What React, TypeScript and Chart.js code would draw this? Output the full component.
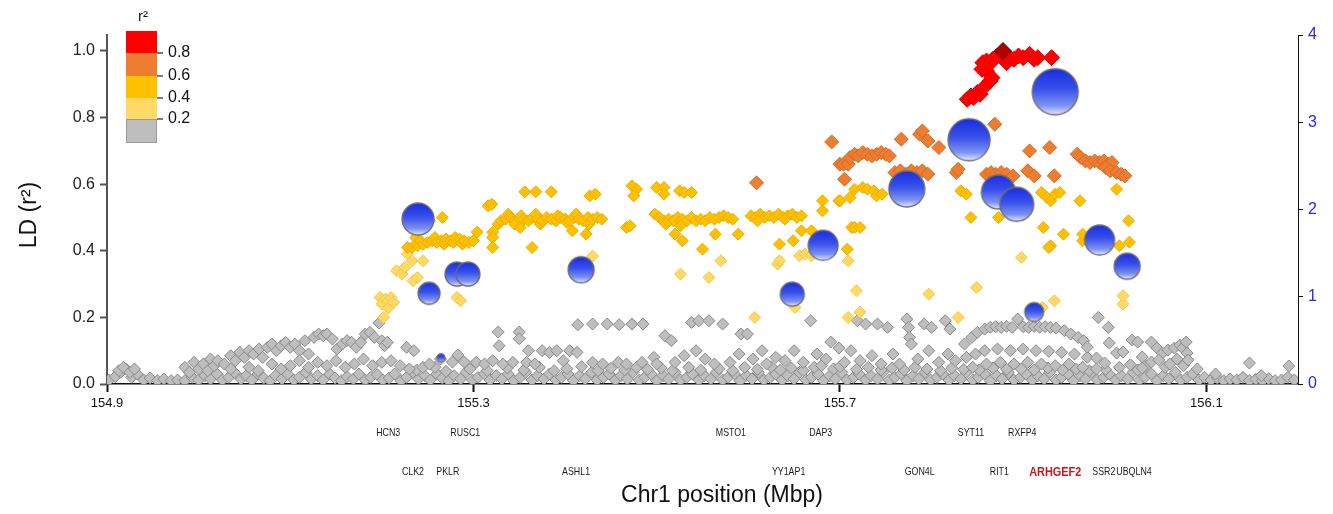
import React, { useEffect, useRef } from "react";
import { Chart, registerables } from "chart.js";

Chart.register(...registerables);

type Pt = [number, number];

// ---------------- DATA ----------------
const xTickValues = [154.9, 155.3, 155.7, 156.1];
const legendBreaks = ["0.8", "0.6", "0.4", "0.2"];

const geneNames = ["HCN3", "RUSC1", "MSTO1", "DAP3", "SYT11", "RXFP4", "CLK2", "PKLR", "ASHL1", "YY1AP1", "GON4L", "RIT1", "ARHGEF2", "SSR2", "UBQLN4"];
const genePositions = [155.207, 155.291, 155.581, 155.679, 155.843, 155.899, 155.234, 155.272, 155.412, 155.644, 155.787, 155.874, 155.935, 155.988, 156.021];
const geneRows = [0, 0, 0, 0, 0, 0, 1, 1, 1, 1, 1, 1, 1, 1, 1];
const highlightGene = "ARHGEF2";

// association signals (right axis) with marker size
const assocX = [155.2395, 155.2515, 155.282, 155.294, 155.2646, 155.4175, 155.648, 155.6817, 155.773, 155.841, 155.873, 155.893, 155.935, 155.912, 155.9835, 156.0135];
const assocY = [1.89, 1.04, 1.26, 1.26, 0.3, 1.31, 1.03, 1.59, 2.235, 2.8, 2.2, 2.06, 3.35, 0.825, 1.65, 1.35];
const assocSize = [16, 11, 12, 12, 4, 13, 12, 15, 18, 21, 17, 17, 23, 9.5, 15, 13];

const leadSnp: Pt[] = [[155.878, 1.0]];

const redSnps: Pt[] = [
  [155.839, 0.855], [155.843, 0.865], [155.846, 0.86], [155.85, 0.875], [155.853, 0.87], [155.857, 0.89],
  [155.855, 0.945], [155.86, 0.94], [155.856, 0.965], [155.86, 0.97], [155.863, 0.96], [155.864, 0.91],
  [155.866, 0.92], [155.867, 0.975], [155.872, 0.985], [155.882, 0.965], [155.885, 0.98], [155.89, 0.975],
  [155.895, 0.985], [155.9, 0.98], [155.907, 0.99], [155.912, 0.975], [155.916, 0.98], [155.931, 0.98],
];

const orangeSnps: Pt[] = [
  [155.609, 0.604], [155.691, 0.727], [155.7, 0.66], [155.704, 0.66], [155.705, 0.615], [155.709, 0.66],
  [155.711, 0.68], [155.716, 0.69], [155.72, 0.685], [155.725, 0.695], [155.73, 0.69], [155.735, 0.685],
  [155.74, 0.69], [155.745, 0.695], [155.75, 0.69], [155.754, 0.685], [155.767, 0.735], [155.787, 0.75],
  [155.79, 0.76], [155.796, 0.73], [155.808, 0.71], [155.76, 0.635], [155.766, 0.64], [155.772, 0.63],
  [155.778, 0.64], [155.784, 0.635], [155.79, 0.64], [155.796, 0.63], [155.827, 0.635], [155.829, 0.645],
  [155.86, 0.63], [155.865, 0.635], [155.87, 0.63], [155.876, 0.635], [155.882, 0.63], [155.889, 0.625],
  [155.869, 0.78], [155.907, 0.7], [155.929, 0.71], [155.905, 0.64], [155.912, 0.625], [155.934, 0.625],
  [155.959, 0.69], [155.963, 0.68], [155.968, 0.67], [155.973, 0.665], [155.978, 0.67], [155.983, 0.665],
  [155.988, 0.67], [155.993, 0.66], [155.997, 0.665], [155.99, 0.65], [155.995, 0.64], [156.002, 0.635],
  [156.007, 0.63], [156.011, 0.625],
];

const yellowSnps: Pt[] = [
  [155.228, 0.41], [155.233, 0.41], [155.237, 0.44], [155.239, 0.415], [155.241, 0.5], [155.242, 0.43],
  [155.245, 0.42], [155.25, 0.425], [155.252, 0.49], [155.255, 0.43], [155.258, 0.44], [155.26, 0.425],
  [155.265, 0.43], [155.266, 0.5], [155.268, 0.42], [155.27, 0.435], [155.275, 0.43], [155.278, 0.425],
  [155.28, 0.44], [155.285, 0.435], [155.288, 0.42], [155.29, 0.43], [155.295, 0.425], [155.3, 0.43],
  [155.304, 0.456], [155.316, 0.535], [155.32, 0.54], [155.321, 0.456], [155.321, 0.44], [155.321, 0.41],
  [155.327, 0.48],
  [155.33, 0.49], [155.335, 0.495], [155.338, 0.51], [155.34, 0.5], [155.345, 0.49], [155.345, 0.48],
  [155.35, 0.5], [155.352, 0.505], [155.355, 0.495], [155.36, 0.49], [155.365, 0.5], [155.368, 0.51],
  [155.37, 0.495], [155.373, 0.48], [155.375, 0.49], [155.38, 0.5], [155.385, 0.495], [155.39, 0.49],
  [155.392, 0.505], [155.395, 0.5], [155.4, 0.495], [155.402, 0.485], [155.405, 0.49], [155.41, 0.5],
  [155.412, 0.51], [155.415, 0.495], [155.42, 0.49], [155.425, 0.5], [155.426, 0.48], [155.43, 0.495],
  [155.435, 0.5], [155.44, 0.495],
  [155.356, 0.577], [155.368, 0.577], [155.385, 0.577], [155.427, 0.565], [155.433, 0.57], [155.473, 0.595],
  [155.478, 0.585], [155.475, 0.565], [155.5, 0.59], [155.508, 0.59], [155.508, 0.57], [155.525, 0.58],
  [155.53, 0.575], [155.538, 0.575],
  [155.351, 0.47], [155.364, 0.41], [155.408, 0.46], [155.423, 0.45], [155.467, 0.47], [155.471, 0.475],
  [155.52, 0.45], [155.528, 0.43], [155.55, 0.405], [155.564, 0.45], [155.589, 0.45], [155.634, 0.42],
  [155.649, 0.43], [155.658, 0.46], [155.669, 0.46], [155.681, 0.55], [155.681, 0.52], [155.699, 0.55],
  [155.708, 0.405], [155.713, 0.47],
  [155.498, 0.51], [155.503, 0.5], [155.508, 0.49], [155.513, 0.495], [155.518, 0.49], [155.523, 0.5],
  [155.528, 0.495], [155.533, 0.49], [155.538, 0.5], [155.543, 0.49], [155.548, 0.495], [155.553, 0.49],
  [155.558, 0.5], [155.563, 0.495], [155.568, 0.5], [155.573, 0.505], [155.578, 0.5], [155.583, 0.495],
  [155.51, 0.48], [155.526, 0.475],
  [155.603, 0.505], [155.608, 0.5], [155.613, 0.51], [155.618, 0.5], [155.623, 0.505], [155.628, 0.5],
  [155.633, 0.51], [155.638, 0.5], [155.643, 0.505], [155.648, 0.51], [155.653, 0.5], [155.658, 0.505],
  [155.61, 0.49], [155.64, 0.495],
  [155.7, 0.55], [155.711, 0.56], [155.716, 0.585], [155.725, 0.59], [155.73, 0.585], [155.737, 0.58],
  [155.74, 0.565], [155.746, 0.57], [155.716, 0.47], [155.722, 0.47], [155.832, 0.58], [155.838, 0.57],
  [155.843, 0.5], [155.873, 0.5], [155.92, 0.575], [155.926, 0.56], [155.93, 0.55], [155.935, 0.57],
  [155.94, 0.575], [155.922, 0.47], [155.944, 0.45], [155.93, 0.415], [155.928, 0.41], [155.965, 0.43],
  [155.965, 0.45], [155.962, 0.55], [156.002, 0.585], [156.015, 0.49], [156.016, 0.426], [156.005, 0.415],
];

const lightYellowSnps: Pt[] = [
  [155.198, 0.26], [155.2, 0.24], [155.202, 0.2], [155.204, 0.255], [155.207, 0.25], [155.207, 0.228],
  [155.21, 0.26], [155.213, 0.245], [155.216, 0.34], [155.222, 0.33], [155.225, 0.35], [155.228, 0.39],
  [155.233, 0.37], [155.234, 0.31], [155.239, 0.32], [155.245, 0.37], [155.282, 0.26], [155.286, 0.25],
  [155.43, 0.384], [155.526, 0.33], [155.557, 0.32], [155.57, 0.37], [155.607, 0.2], [155.632, 0.36],
  [155.634, 0.37], [155.651, 0.23], [155.656, 0.385], [155.662, 0.39], [155.669, 0.385], [155.709, 0.37],
  [155.709, 0.2], [155.718, 0.28], [155.722, 0.216], [155.797, 0.27], [155.829, 0.2], [155.849, 0.29],
  [155.898, 0.38], [155.921, 0.23], [155.934, 0.25], [156.009, 0.24], [156.009, 0.265],
];

const grayBaseline: Pt[] = [
  [154.902, 0.012], [154.909, 0.022], [154.915, 0.035], [154.921, 0.045], [154.927, 0.02], [154.933, 0.03],
  [154.94, 0.012], [154.947, 0.018], [154.955, 0.01], [154.962, 0.015], [154.97, 0.01], [154.977, 0.012],
  [154.985, 0.01], [154.993, 0.02], [155.0, 0.012], [155.007, 0.025], [155.013, 0.015], [155.02, 0.03],
  [155.026, 0.012], [155.033, 0.02], [155.039, 0.035], [155.046, 0.015], [155.052, 0.025], [155.058, 0.012],
  [155.065, 0.03], [155.071, 0.018], [155.078, 0.01], [155.084, 0.025], [155.091, 0.015], [155.097, 0.03],
  [155.104, 0.012], [155.11, 0.02], [155.117, 0.035], [155.123, 0.015], [155.13, 0.025], [155.136, 0.012],
  [155.143, 0.03], [155.149, 0.018], [155.156, 0.01], [155.162, 0.022], [155.169, 0.015], [155.175, 0.03],
  [155.182, 0.012], [155.188, 0.02], [155.195, 0.028], [155.201, 0.012], [155.208, 0.018], [155.214, 0.03],
  [155.221, 0.01], [155.227, 0.02], [155.234, 0.035], [155.24, 0.015], [155.247, 0.025], [155.253, 0.012],
  [155.26, 0.03], [155.266, 0.018], [155.273, 0.01], [155.279, 0.025], [155.286, 0.015], [155.292, 0.035],
  [155.299, 0.012], [155.305, 0.02], [155.312, 0.03], [155.318, 0.012], [155.325, 0.025], [155.331, 0.015],
  [155.338, 0.03], [155.344, 0.01], [155.351, 0.02], [155.357, 0.035], [155.364, 0.012], [155.37, 0.025],
  [155.377, 0.015], [155.383, 0.03], [155.39, 0.012], [155.396, 0.02], [155.403, 0.03], [155.409, 0.01],
  [155.416, 0.025], [155.422, 0.015], [155.429, 0.035], [155.435, 0.012], [155.442, 0.02], [155.448, 0.03],
  [155.455, 0.012], [155.461, 0.025], [155.468, 0.015], [155.474, 0.035], [155.481, 0.012], [155.487, 0.02],
  [155.494, 0.03], [155.5, 0.01], [155.507, 0.025], [155.513, 0.015], [155.52, 0.035], [155.526, 0.012],
  [155.533, 0.02], [155.539, 0.03], [155.546, 0.012], [155.552, 0.025], [155.559, 0.015], [155.565, 0.035],
  [155.572, 0.012], [155.578, 0.02], [155.585, 0.03], [155.591, 0.01], [155.598, 0.025], [155.604, 0.015],
  [155.611, 0.035], [155.617, 0.012], [155.624, 0.02], [155.63, 0.03], [155.637, 0.012], [155.643, 0.025],
  [155.65, 0.015], [155.656, 0.035], [155.663, 0.012], [155.669, 0.02], [155.676, 0.03], [155.682, 0.01],
  [155.689, 0.025], [155.695, 0.015], [155.702, 0.035], [155.708, 0.012], [155.715, 0.02], [155.721, 0.03],
  [155.728, 0.012], [155.734, 0.025], [155.741, 0.015], [155.747, 0.035], [155.754, 0.012], [155.76, 0.02],
  [155.767, 0.03], [155.773, 0.01], [155.78, 0.025], [155.786, 0.015], [155.793, 0.035], [155.799, 0.012],
  [155.806, 0.02], [155.812, 0.03], [155.819, 0.012], [155.825, 0.025], [155.832, 0.015], [155.838, 0.035],
  [155.845, 0.012], [155.851, 0.02], [155.858, 0.03], [155.864, 0.01], [155.871, 0.025], [155.877, 0.015],
  [155.884, 0.035], [155.89, 0.012], [155.897, 0.02], [155.903, 0.03], [155.91, 0.012], [155.916, 0.025],
  [155.923, 0.015], [155.929, 0.035], [155.936, 0.012], [155.942, 0.02], [155.949, 0.03], [155.955, 0.01],
  [155.962, 0.025], [155.968, 0.015], [155.975, 0.035], [155.981, 0.012], [155.988, 0.02], [155.994, 0.03],
  [156.001, 0.012], [156.007, 0.025], [156.014, 0.015], [156.02, 0.035], [156.027, 0.012], [156.033, 0.02],
  [156.04, 0.03], [156.046, 0.01], [156.053, 0.025], [156.059, 0.015], [156.066, 0.035], [156.072, 0.012],
  [156.079, 0.02], [156.085, 0.03], [156.092, 0.012], [156.098, 0.02], [156.105, 0.012], [156.112, 0.018],
  [156.119, 0.01], [156.126, 0.015], [156.133, 0.012], [156.14, 0.02], [156.147, 0.01], [156.154, 0.014],
  [156.161, 0.01], [156.168, 0.016], [156.175, 0.01], [156.182, 0.012], [156.189, 0.02], [156.196, 0.012],
];

const grayMid: Pt[] = [
  [155.238, 0.042], [155.258, 0.05], [155.27, 0.038], [155.296, 0.045], [155.315, 0.04], [155.337, 0.048],
  [155.355, 0.042], [155.372, 0.05], [155.388, 0.04], [155.402, 0.046], [155.418, 0.052], [155.436, 0.04],
  [155.45, 0.047], [155.465, 0.042], [155.478, 0.05], [155.49, 0.044], [155.505, 0.048], [155.517, 0.04],
  [155.535, 0.05], [155.548, 0.042], [155.568, 0.046], [155.583, 0.04], [155.596, 0.05], [155.61, 0.044],
  [155.625, 0.052], [155.635, 0.042], [155.647, 0.048], [155.66, 0.04], [155.672, 0.05], [155.68, 0.055],
  [155.693, 0.045], [155.7, 0.052], [155.718, 0.044], [155.731, 0.05], [155.745, 0.042], [155.757, 0.048],
  [155.77, 0.042], [155.782, 0.05], [155.795, 0.045], [155.81, 0.04], [155.822, 0.048], [155.835, 0.044],
  [155.852, 0.042], [155.867, 0.048], [155.882, 0.044], [155.898, 0.045], [155.912, 0.042], [155.927, 0.048],
  [155.943, 0.042], [155.958, 0.045], [155.972, 0.04], [155.99, 0.044], [156.005, 0.05], [156.017, 0.058],
  [156.035, 0.055], [156.055, 0.05], [156.075, 0.055], [156.09, 0.045],
];

const grayUpper: Pt[] = [
  [154.913, 0.04], [154.918, 0.05], [154.925, 0.035], [154.93, 0.045], [154.985, 0.05], [154.99, 0.035],
  [154.995, 0.065], [155.0, 0.045], [155.005, 0.06], [155.01, 0.04], [155.013, 0.075], [155.017, 0.055],
  [155.021, 0.07],
  [155.028, 0.06], [155.035, 0.085], [155.04, 0.07], [155.045, 0.095], [155.05, 0.08], [155.055, 0.1],
  [155.06, 0.09], [155.066, 0.105], [155.07, 0.08], [155.075, 0.11], [155.08, 0.12], [155.085, 0.1],
  [155.09, 0.115], [155.095, 0.125], [155.1, 0.11], [155.105, 0.12], [155.11, 0.1], [155.116, 0.13],
  [155.12, 0.09], [155.126, 0.14], [155.131, 0.15], [155.136, 0.145], [155.14, 0.15], [155.146, 0.135],
  [155.151, 0.105], [155.157, 0.12], [155.162, 0.13], [155.167, 0.125], [155.172, 0.11], [155.177, 0.125],
  [155.182, 0.15], [155.187, 0.155], [155.192, 0.14], [155.197, 0.183], [155.2, 0.13], [155.203, 0.115],
  [155.206, 0.125], [155.227, 0.11], [155.235, 0.1],
  [155.035, 0.045], [155.055, 0.05], [155.065, 0.04], [155.08, 0.06], [155.09, 0.045], [155.1, 0.055],
  [155.11, 0.07], [155.12, 0.05], [155.13, 0.065], [155.14, 0.055], [155.15, 0.07], [155.16, 0.05],
  [155.17, 0.06], [155.18, 0.075], [155.19, 0.055], [155.2, 0.065], [155.21, 0.07], [155.22, 0.055],
  [155.23, 0.045], [155.245, 0.05],
  [155.252, 0.06], [155.264, 0.075], [155.277, 0.066], [155.283, 0.087], [155.29, 0.066], [155.303, 0.065],
  [155.312, 0.06], [155.321, 0.07], [155.327, 0.156], [155.328, 0.115], [155.332, 0.06], [155.343, 0.065],
  [155.35, 0.156], [155.35, 0.136], [155.358, 0.065], [155.36, 0.1], [155.367, 0.06], [155.375, 0.1],
  [155.383, 0.095], [155.391, 0.1], [155.398, 0.07], [155.405, 0.1], [155.413, 0.095], [155.414, 0.178],
  [155.43, 0.18], [155.43, 0.065], [155.441, 0.06], [155.446, 0.18], [155.458, 0.065], [155.459, 0.178],
  [155.467, 0.06], [155.473, 0.18], [155.484, 0.065], [155.485, 0.18],
  [155.497, 0.08], [155.5, 0.06], [155.509, 0.145], [155.516, 0.13], [155.52, 0.065], [155.53, 0.085],
  [155.538, 0.185], [155.543, 0.1], [155.546, 0.19], [155.553, 0.075], [155.557, 0.19], [155.563, 0.06],
  [155.572, 0.18], [155.58, 0.065], [155.59, 0.09], [155.592, 0.15], [155.599, 0.15], [155.605, 0.075],
  [155.615, 0.1], [155.62, 0.06], [155.63, 0.08], [155.64, 0.07], [155.65, 0.1], [155.66, 0.065],
  [155.668, 0.19], [155.675, 0.09], [155.685, 0.075], [155.69, 0.126], [155.699, 0.108], [155.705, 0.065],
  [155.712, 0.1], [155.719, 0.19], [155.722, 0.07], [155.728, 0.18], [155.735, 0.085], [155.741, 0.18],
  [155.745, 0.06], [155.752, 0.17], [155.758, 0.09],
  [155.773, 0.195], [155.775, 0.17], [155.776, 0.14], [155.778, 0.12], [155.765, 0.06], [155.785, 0.075],
  [155.792, 0.18], [155.797, 0.1], [155.8, 0.17], [155.808, 0.065], [155.815, 0.19], [155.818, 0.09],
  [155.82, 0.165], [155.826, 0.07],
  [155.836, 0.12], [155.844, 0.14], [155.85, 0.155], [155.858, 0.165], [155.864, 0.17], [155.87, 0.172],
  [155.876, 0.17], [155.882, 0.173], [155.888, 0.17], [155.894, 0.195], [155.9, 0.172], [155.906, 0.17],
  [155.912, 0.173], [155.918, 0.17], [155.924, 0.172], [155.93, 0.17], [155.936, 0.168], [155.945, 0.16],
  [155.952, 0.15], [155.96, 0.14], [155.966, 0.13],
  [155.838, 0.08], [155.848, 0.09], [155.858, 0.1], [155.872, 0.105], [155.886, 0.1], [155.9, 0.105],
  [155.914, 0.1], [155.928, 0.098], [155.942, 0.095], [155.956, 0.09], [155.97, 0.08],
  [155.845, 0.05], [155.86, 0.06], [155.875, 0.065], [155.89, 0.06], [155.905, 0.065], [155.92, 0.06],
  [155.935, 0.055], [155.95, 0.06], [155.965, 0.05], [155.98, 0.045],
  [155.982, 0.2], [155.993, 0.17], [155.97, 0.111], [155.98, 0.078], [155.989, 0.063], [155.994, 0.123],
  [156.002, 0.093], [156.009, 0.096], [156.019, 0.132], [156.025, 0.126], [156.03, 0.081], [156.04, 0.126],
  [156.046, 0.108], [156.052, 0.093], [156.058, 0.102], [156.065, 0.108], [156.071, 0.117], [156.074, 0.108],
  [156.078, 0.126], [156.079, 0.093], [156.08, 0.072], [156.025, 0.042], [156.03, 0.048], [156.04, 0.066],
  [156.048, 0.072], [156.06, 0.06], [156.068, 0.075],
  [156.147, 0.063], [156.19, 0.054], [156.11, 0.03], [156.16, 0.025],
];

// ---------------- STYLE ----------------
const FONT = "'Liberation Sans', Arial, sans-serif";
const COLORS = {
  lead: ["#B00000", "#5A0000"],
  red: ["#FF0000", "#E00000"],
  orange: ["#ED7D31", "#D86A25"],
  yellow: ["#FFC000", "#E8AE00"],
  light: ["#FFD966", "#F5C842"],
  gray: ["#BEBEBE", "#8A8A8A"],
};

const circleCache = new Map<number, HTMLCanvasElement>();
function circleImage(r: number): HTMLCanvasElement {
  const key = Math.round(r * 2) / 2;
  const hit = circleCache.get(key);
  if (hit) return hit;
  const pad = 2;
  const size = Math.ceil(2 * key + 2 * pad);
  const c = document.createElement("canvas");
  c.width = size;
  c.height = size;
  const g = c.getContext("2d")!;
  const cx = size / 2;
  const cy = size / 2;
  const grad = g.createLinearGradient(0, cy - key, 0, cy + key);
  grad.addColorStop(0, "#1a2ce2");
  grad.addColorStop(0.45, "#3a52ea");
  grad.addColorStop(0.8, "#7d92f2");
  grad.addColorStop(1, "#e4eafd");
  g.beginPath();
  g.arc(cx, cy, key, 0, Math.PI * 2);
  g.fillStyle = grad;
  g.fill();
  g.lineWidth = 1.3;
  g.strokeStyle = "#6c6c6c";
  g.stroke();
  circleCache.set(key, c);
  return c;
}

function diamonds(label: string, pts: Pt[], colors: string[], radius: number) {
  return {
    type: "scatter" as const,
    label,
    data: pts.map(([x, y]) => ({ x, y })),
    yAxisID: "y",
    pointStyle: "rectRot" as const,
    pointRadius: radius,
    pointHoverRadius: radius,
    backgroundColor: colors[0],
    borderColor: colors[1],
    borderWidth: 1,
  };
}

const overlayPlugin = {
  id: "overlay",
  afterDraw(chart: any) {
    const ctx: CanvasRenderingContext2D = chart.ctx;
    const xs = chart.scales.x;
    ctx.save();

    // legend colour bar
    const bands = [
      [COLORS.red, 31, 53],
      [COLORS.orange, 53, 76],
      [COLORS.yellow, 76, 98],
      [COLORS.light, 98, 119],
      [COLORS.gray, 119, 143],
    ] as [string[], number, number][];
    bands.forEach(([col, y0, y1]) => {
      ctx.fillStyle = col[0];
      ctx.fillRect(126, y0, 31, y1 - y0);
    });
    ctx.strokeStyle = "#9a9a9a";
    ctx.lineWidth = 1;
    ctx.strokeRect(126.5, 119.5, 30, 23);
    ctx.strokeStyle = "#222";
    ctx.lineWidth = 1.2;
    ctx.fillStyle = "#111";
    ctx.font = `16px ${FONT}`;
    ctx.textAlign = "left";
    ctx.textBaseline = "middle";
    [53, 76, 98, 119].forEach((y, i) => {
      ctx.beginPath();
      ctx.moveTo(157, y);
      ctx.lineTo(163, y);
      ctx.stroke();
      ctx.fillText(legendBreaks[i], 168, y);
    });
    ctx.textAlign = "center";
    ctx.font = `15px ${FONT}`;
    ctx.fillText("r²", 143, 17);

    // gene labels (condensed, like a narrow face)
    geneNames.forEach((name, i) => {
      const x = xs.getPixelForValue(genePositions[i]);
      const y = geneRows[i] === 0 ? 433 : 472;
      ctx.save();
      ctx.translate(x, y);
      ctx.scale(0.84, 1);
      if (name === highlightGene) {
        ctx.font = `bold 13px ${FONT}`;
        ctx.fillStyle = "#C8161D";
      } else {
        ctx.font = `10.5px ${FONT}`;
        ctx.fillStyle = "#1a1a1a";
      }
      ctx.fillText(name, 0, 0);
      ctx.restore();
    });

    // axis titles
    ctx.fillStyle = "#111";
    ctx.font = `23px ${FONT}`;
    ctx.fillText("Chr1 position (Mbp)", 722, 496);
    ctx.translate(30, 215);
    ctx.rotate(-Math.PI / 2);
    ctx.fillText("LD (r²)", 0, 0);
    ctx.restore();
  },
};

export default function App() {
  const ref = useRef<HTMLCanvasElement | null>(null);
  useEffect(() => {
    if (!ref.current) return;
    Chart.defaults.font.family = FONT;
    const chart = new Chart(ref.current, {
      type: "scatter",
      data: {
        datasets: [
          {
            type: "bubble",
            label: "association",
            data: assocX.map((x, i) => ({ x, y: assocY[i], r: assocSize[i] })),
            yAxisID: "y2",
            pointStyle: (c: any) => circleImage(c.raw ? c.raw.r : 10),
            backgroundColor: "#3344ee",
            borderWidth: 0,
          } as any,
          diamonds("lead", leadSnp, COLORS.lead, 8.5),
          diamonds("r2 0.8-1.0", redSnps, COLORS.red, 8),
          diamonds("r2 0.6-0.8", orangeSnps, COLORS.orange, 7),
          diamonds("r2 0.4-0.6", yellowSnps, COLORS.yellow, 6),
          diamonds("r2 0.2-0.4", lightYellowSnps, COLORS.light, 6),
          diamonds("r2 <0.2 upper", grayUpper, COLORS.gray, 6),
          diamonds("r2 <0.2 mid", grayMid, COLORS.gray, 6),
          diamonds("r2 <0.2", grayBaseline, COLORS.gray, 6),
        ],
      },
      options: {
        animation: false,
        responsive: false,
        events: [],
        layout: { padding: { top: 35, left: 0, right: 0, bottom: 0 } },
        plugins: { legend: { display: false }, tooltip: { enabled: false } },
        scales: {
          x: {
            type: "linear",
            min: 154.9,
            max: 156.2,
            afterBuildTicks: (s: any) => {
              s.ticks = xTickValues.map((v) => ({ value: v }));
            },
            afterFit: (s: any) => {
              s.height = 130;
            },
            ticks: {
              font: { size: 13 },
              color: "#111",
              padding: 4,
              maxRotation: 0,
              autoSkip: false,
              callback: (v: any) => Number(v).toFixed(1),
            },
            grid: { drawOnChartArea: false, tickLength: 8, tickColor: "#111", tickWidth: 2 },
            border: { color: "#111", width: 1.5 },
          },
          y: {
            position: "left",
            min: 0,
            max: 1.048,
            afterFit: (s: any) => {
              s.width = 107;
            },
            ticks: {
              stepSize: 0.2,
              includeBounds: false,
              font: { size: 16 },
              color: "#222",
              padding: 5,
              callback: (v: any) => Number(v).toFixed(1),
            },
            grid: { drawOnChartArea: false, tickLength: 7, tickColor: "#555", tickWidth: 2 },
            border: { color: "#555", width: 2 },
          },
          y2: {
            position: "right",
            min: 0,
            max: 4,
            afterFit: (s: any) => {
              s.width = 35;
            },
            ticks: { stepSize: 1, font: { size: 16 }, color: "#2b2bd6", padding: 5 },
            grid: { drawOnChartArea: false, tickLength: 5, tickColor: "#111", tickWidth: 1 },
            border: { color: "#111", width: 1 },
          },
        },
      },
      plugins: [overlayPlugin],
    } as any);
    return () => chart.destroy();
  }, []);

  return (
    <div style={{ position: "fixed", left: 0, top: 0, width: 1333, height: 514, background: "#fff" }}>
      <canvas ref={ref} width={1333} height={514} style={{ display: "block" }} />
    </div>
  );
}
